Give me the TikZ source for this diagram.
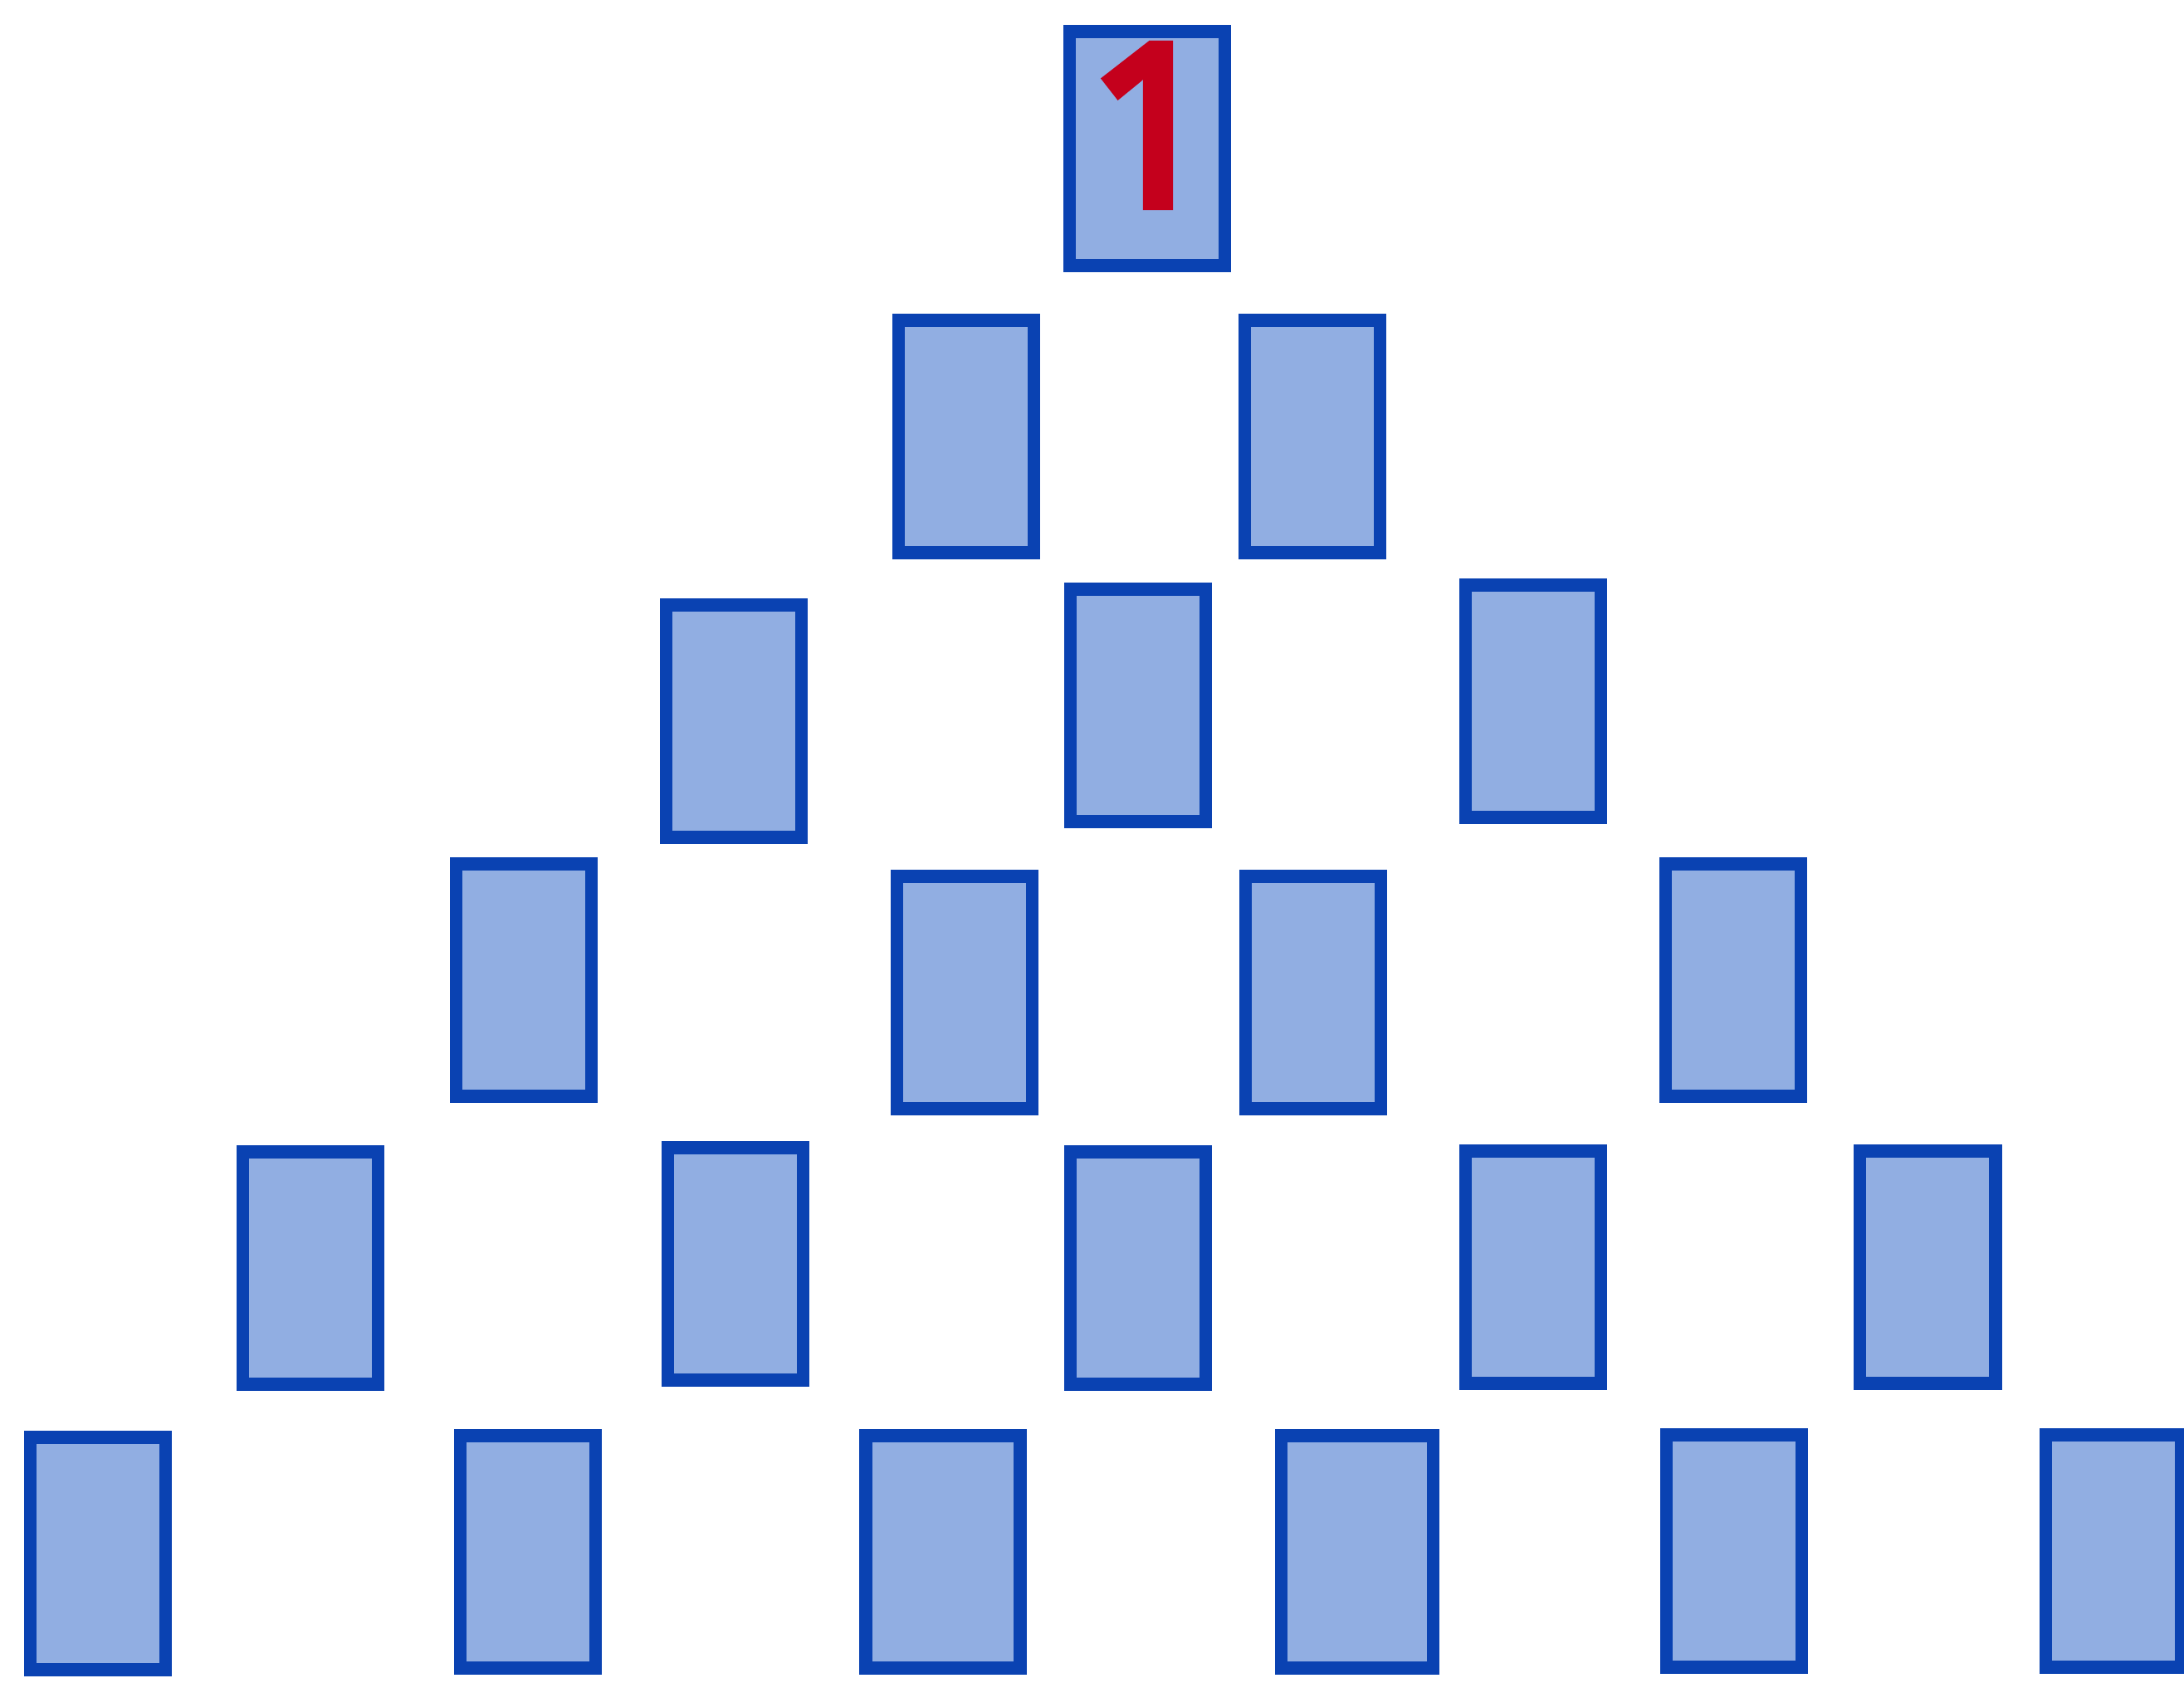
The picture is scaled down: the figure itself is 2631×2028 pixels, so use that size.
\documentclass[tikz,border=0pt]{standalone}
\usepackage{fontspec}
\newfontfamily\numfont[FakeBold=5]{Noto Sans}
\usepackage{xcolor}
\usepackage{tikz}
\usetikzlibrary{positioning}
\definecolor{cardblue}{HTML}{0A42B2}
\definecolor{cardfill}{HTML}{91AEE2}
\definecolor{numred}{HTML}{C4001C}
\tikzset{
  card/.style={draw=cardblue,fill=cardfill,line width=4.5pt,inner sep=0pt,
    minimum width=1.63cm,minimum height=2.8cm},
  widecard/.style={card,minimum width=1.83cm},
  topcard/.style={card,minimum width=1.87cm,minimum height=2.82cm},
  numlabel/.style={text=numred,font=\numfont\fontsize{76}{76}\selectfont,inner sep=0pt}
}

\begin{document}
\begin{tikzpicture}[x=0.01cm,y=-0.01cm]
  \useasboundingbox (0,0) rectangle (2631,2028);
  % top card with the number
  \node[topcard] (top) at (1382,179) {};
  \node[numlabel] (num) at ([xshift=0.06cm,yshift=0.28cm]top.center) {1};
  % rows below
  \foreach \name/\x/\y in {a1/1164/526, a2/1581/526,
      b1/884/869, b2/1371/850, b3/1847/845,
      c1/631/1181, c2/1162/1196, c3/1582/1196, c4/2088/1181,
      d1/374/1528, d2/886/1523, d3/1371/1528, d4/1847/1527, d5/2322/1527,
      e1/118/1872, e2/636/1870, e5/2089/1869, e6/2546/1869}{
    \node[card] (\name) at (\x,\y) {};
  }
  \node[widecard,minimum width=1.86cm] (e3) at (1136,1870) {};
  \node[widecard] (e4) at (1635,1870) {};
\end{tikzpicture}
\end{document}
